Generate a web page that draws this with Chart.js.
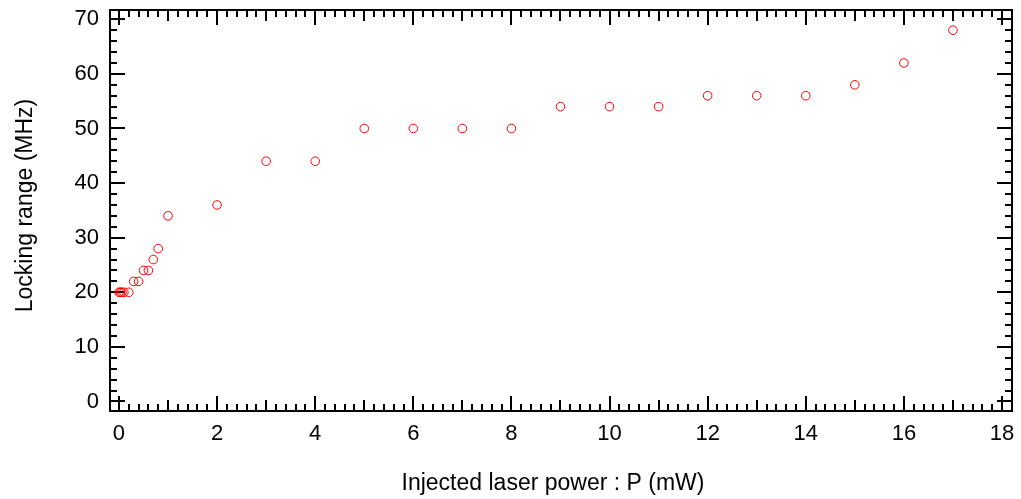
<!DOCTYPE html>
<html>
<head>
<meta charset="utf-8">
<script src="https://cdn.jsdelivr.net/npm/chart.js@4.4.1/dist/chart.umd.min.js"></script>
<style>
  html, body { margin: 0; padding: 0; background: #ffffff; }
  #wrap { width: 1021px; height: 499px; }
</style>
</head>
<body>
<div id="wrap"><canvas id="c" width="1021" height="499"></canvas></div>
<script>
// Injected laser power (mW) and measured locking range (MHz)
const powerMW = [0, 0.03, 0.06, 0.1, 0.2, 0.3, 0.4, 0.5, 0.6, 0.7, 0.8, 1, 2, 3, 4, 5, 6, 7, 8, 9, 10, 11, 12, 13, 14, 15, 16, 17];
const lockingMHz = [20, 20, 20, 20, 20, 22, 22, 24, 24, 26, 28, 34, 36, 44, 44, 50, 50, 50, 50, 54, 54, 54, 56, 56, 56, 58, 62, 68];

const xTickValues = [0, 2, 4, 6, 8, 10, 12, 14, 16, 18];
const yTickValues = [0, 10, 20, 30, 40, 50, 60, 70];

const xTitle = 'Injected laser power : P (mW)';
const yTitle = 'Locking range (MHz)';

const points = powerMW.map((p, i) => ({ x: p, y: lockingMHz[i] }));

const fontFamily = '"Liberation Sans", Arial, sans-serif';

// Boxed frame with inward tick marks on all four sides
const framePlugin = {
  id: 'frame',
  beforeDatasetsDraw(chart) {
    const { ctx, chartArea: a, scales: { x, y } } = chart;
    ctx.save();
    ctx.strokeStyle = '#000000';
    ctx.lineWidth = 2;
    ctx.lineCap = 'butt';
    const seg = (x1, y1, x2, y2) => { ctx.beginPath(); ctx.moveTo(x1, y1); ctx.lineTo(x2, y2); ctx.stroke(); };
    for (let i = 0; i <= 90; i++) {
      const px = Math.round(x.getPixelForValue(i * 0.2));
      const len = i % 10 === 0 ? 15 : (i % 5 === 0 ? 11 : 7);
      seg(px, a.bottom, px, a.bottom - len);
      seg(px, a.top, px, a.top + len);
    }
    for (let v = 0; v <= 70; v += 2) {
      const py = Math.round(y.getPixelForValue(v));
      const len = v % 10 === 0 ? 15 : 7;
      seg(a.left, py, a.left + len, py);
      seg(a.right, py, a.right - len, py);
    }
    ctx.strokeRect(a.left, a.top, a.right - a.left, a.bottom - a.top);
    ctx.restore();
  }
};

// Axis titles, placed relative to the plot box
const titlePlugin = {
  id: 'axisTitles',
  afterDraw(chart) {
    const { ctx, chartArea: a } = chart;
    ctx.save();
    ctx.fillStyle = '#000000';
    ctx.font = '23px ' + fontFamily;
    ctx.textAlign = 'center';
    ctx.textBaseline = 'alphabetic';
    ctx.fillText(xTitle, (a.left + a.right) / 2 - 8, a.bottom + 79);
    ctx.translate(32, (a.top + a.bottom) / 2 - 5);
    ctx.rotate(-Math.PI / 2);
    ctx.fillText(yTitle, 0, 0);
    ctx.restore();
  }
};

new Chart(document.getElementById('c'), {
  type: 'scatter',
  data: {
    datasets: [{
      data: points,
      showLine: false,
      pointStyle: 'circle',
      pointRadius: 4.3,
      pointHoverRadius: 4.3,
      borderWidth: 1,
      borderColor: '#ff0000',
      backgroundColor: 'rgba(0,0,0,0)'
    }]
  },
  options: {
    responsive: false,
    devicePixelRatio: 1,
    animation: false,
    layout: { padding: { top: 10, right: 9, bottom: 0, left: 0 } },
    plugins: { legend: { display: false }, tooltip: { enabled: false } },
    scales: {
      x: {
        type: 'linear',
        min: -0.183,
        max: 18.204,
        afterBuildTicks: s => { s.ticks = xTickValues.map(v => ({ value: v })); },
        afterFit: s => { s.height = 88; s.paddingLeft = 0; s.paddingRight = 0; },
        grid: { display: false, drawTicks: false, tickLength: 0 },
        border: { display: false },
        ticks: { color: '#000000', padding: 10, maxRotation: 0, autoSkip: false, font: { family: fontFamily, size: 22 } },
        title: { display: false }
      },
      y: {
        type: 'linear',
        min: -1.74,
        max: 71.7,
        afterBuildTicks: s => { s.ticks = yTickValues.map(v => ({ value: v })); },
        afterFit: s => { s.width = 110; s.paddingTop = 0; s.paddingBottom = 0; },
        grid: { display: false, drawTicks: false, tickLength: 0 },
        border: { display: false },
        ticks: { color: '#000000', padding: 11, autoSkip: false, font: { family: fontFamily, size: 22 } },
        title: { display: false }
      }
    }
  },
  plugins: [framePlugin, titlePlugin]
});
</script>
</body>
</html>
